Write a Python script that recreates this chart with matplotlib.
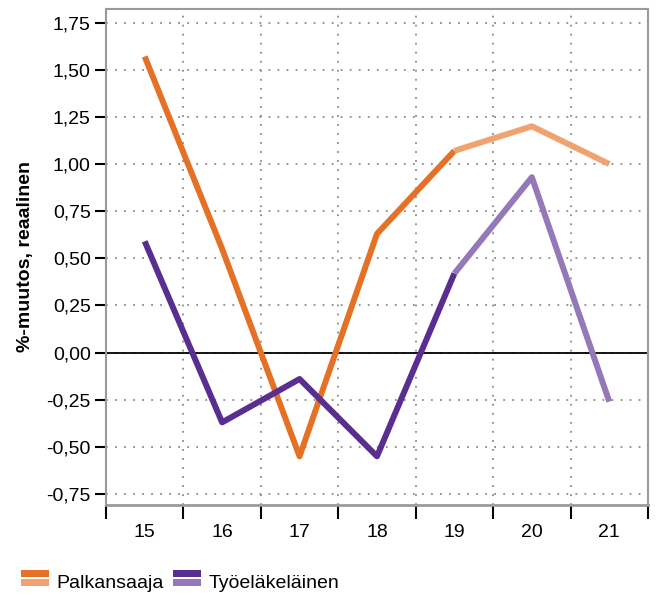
#!/usr/bin/env python3

# palkansaajien ja työeläkeläisten ostovoiman muutos, ennustevuodet vaaleammalla

import matplotlib
matplotlib.use('Agg')
import matplotlib.pyplot as plt
from matplotlib.patches import Rectangle
from matplotlib.ticker import FixedLocator, FuncFormatter

# data
years = ['15', '16', '17', '18', '19', '20', '21']
palkansaaja = [1.57, 0.55, -0.55, 0.63, 1.07, 1.20, 1.00]
tyoelakelainen = [0.59, -0.37, -0.14, -0.55, 0.42, 0.93, -0.26]
forecast_start = 4  # vuodesta 19 eteenpäin ennuste

# colors
ORANGE = '#E57126'
ORANGE_LIGHT = '#F0A271'
PURPLE = '#5A2D91'
PURPLE_LIGHT = '#9478B8'

FS = 14
plt.rcParams['font.family'] = ['Liberation Sans', 'DejaVu Sans']
plt.rcParams['font.size'] = FS

fig = plt.figure(figsize=(6.57, 5.95), dpi=100)
ax = fig.add_axes([0.1613, 0.1513, 0.825, 0.8336])

x = list(range(len(years)))
lw = 4.3

for vals, c1, c2 in [(palkansaaja, ORANGE, ORANGE_LIGHT),
                     (tyoelakelainen, PURPLE, PURPLE_LIGHT)]:
    ax.plot(x[:forecast_start + 1], vals[:forecast_start + 1], color=c1,
            lw=lw, solid_capstyle='butt', zorder=3)
    ax.plot(x[forecast_start:], vals[forecast_start:], color=c2,
            lw=lw, solid_capstyle='butt', zorder=3)

ax.axhline(0, color='black', lw=1.3, zorder=2)

ax.set_xlim(-0.5, len(years) - 0.5)
ax.set_ylim(-0.808, 1.822)

# x: tick marks between categories, labels at categories
ax.xaxis.set_major_locator(FixedLocator([i - 0.5 for i in range(len(years) + 1)]))
ax.xaxis.set_minor_locator(FixedLocator(x))
ax.set_xticklabels([])
ax.set_xticklabels(years, minor=True)
ax.tick_params(axis='x', which='major', length=10, width=1.5, color='black')
ax.tick_params(axis='x', which='minor', length=0, pad=14, labelsize=FS)

yticks = [-0.75, -0.5, -0.25, 0, 0.25, 0.5, 0.75, 1.0, 1.25, 1.5, 1.75]
ax.yaxis.set_major_locator(FixedLocator(yticks))
ax.yaxis.set_major_formatter(FuncFormatter(lambda v, p: f'{v:.2f}'.replace('.', ',')))
ax.tick_params(axis='y', length=8, width=1.5, color='black', pad=3, labelsize=FS)

ax.grid(True, which='major', color='#8a8a8a', linestyle=(0, (1, 4)), lw=1.3)
ax.set_axisbelow(True)

for s in ax.spines.values():
    s.set_color('#9a9a9a')
    s.set_linewidth(1.5)
ax.spines['bottom'].set_linewidth(2)

ax.set_ylabel('%-muutos, reaalinen', fontweight='bold', fontsize=FS, labelpad=9)


# legend: kaksiväriset laatikot
class TwoTone:
    def __init__(self, c1, c2):
        self.c1 = c1
        self.c2 = c2


class TwoToneHandler:
    def legend_artist(self, legend, orig_handle, fontsize, handlebox):
        x0, y0 = handlebox.xdescent, handlebox.ydescent
        w, h = handlebox.width, handlebox.height
        hh = h * 0.42
        r1 = Rectangle((x0, y0 + h - hh), w, hh, facecolor=orig_handle.c1,
                       lw=0, transform=handlebox.get_transform())
        r2 = Rectangle((x0, y0), w, hh, facecolor=orig_handle.c2,
                       lw=0, transform=handlebox.get_transform())
        handlebox.add_artist(r1)
        handlebox.add_artist(r2)
        return r1


handles = [TwoTone(ORANGE, ORANGE_LIGHT), TwoTone(PURPLE, PURPLE_LIGHT)]
fig.legend(handles, ['Palkansaaja', 'Työeläkeläinen'],
           handler_map={TwoTone: TwoToneHandler()},
           loc='lower left', bbox_to_anchor=(21 / 657, 3 / 595), ncol=2,
           frameon=False, borderpad=0, borderaxespad=0,
           handlelength=1.45, handleheight=0.95,
           handletextpad=0.36, columnspacing=0.5, fontsize=FS)

fig.savefig('out.png', dpi=100)
